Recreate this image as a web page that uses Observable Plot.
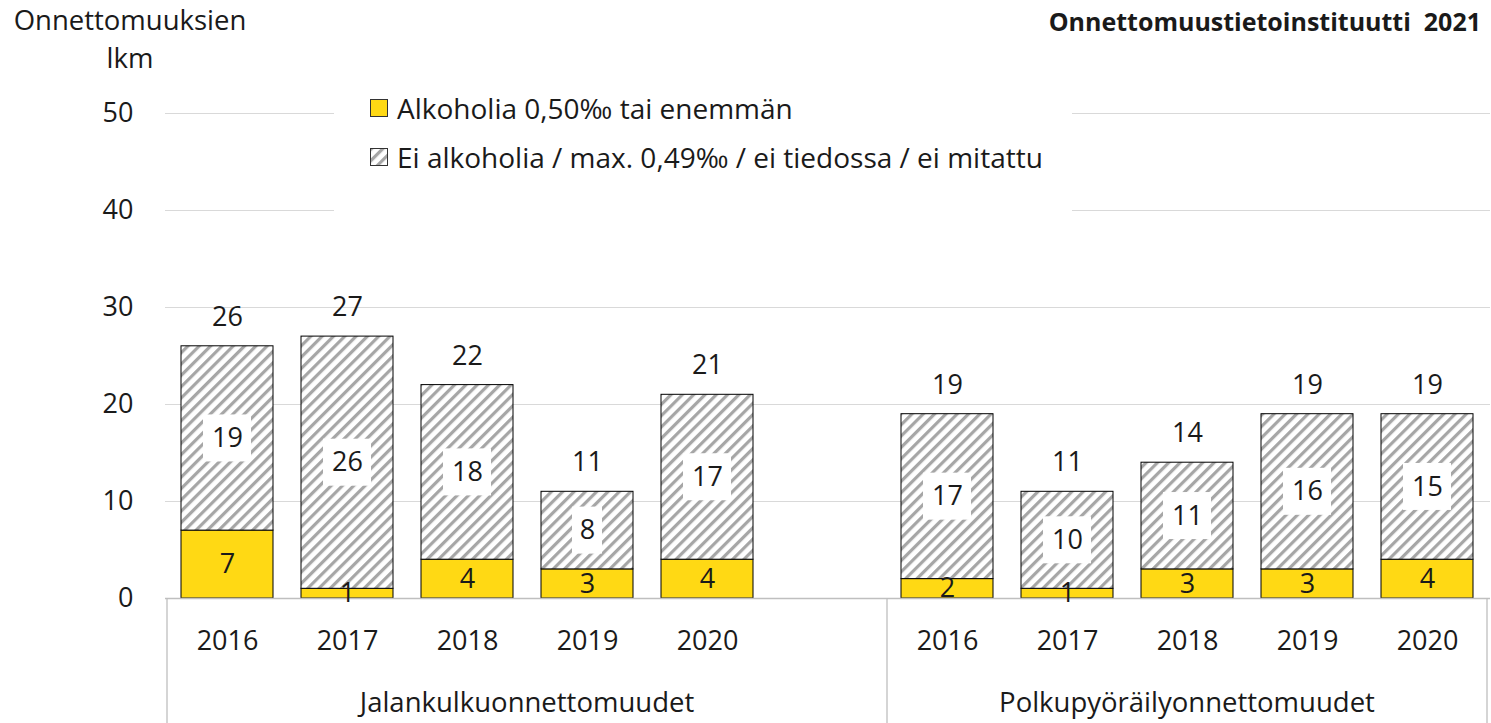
<!DOCTYPE html>
<html><head><meta charset="utf-8">
<script src="https://cdn.jsdelivr.net/npm/d3@7"></script>
<script src="https://cdn.jsdelivr.net/npm/@observablehq/plot@0.6"></script>
<style>
body{margin:0;background:#fff;font-family:"Open Sans",sans-serif;color:#1a1a1a;}
#wrap{position:relative;width:1491px;height:723px;overflow:hidden;}
#chart{position:absolute;left:0;top:0;}
#ytitle{position:absolute;left:0;top:1px;width:260px;text-align:center;font-size:27.5px;line-height:38px;}
#src{position:absolute;right:10px;top:4px;font-size:25px;font-weight:bold;white-space:pre;}
#legend{position:absolute;left:334px;top:84px;width:738px;height:134px;background:#fff;font-size:28px;}
.lrow{position:absolute;left:36px;display:flex;align-items:center;white-space:pre;}
.lrow svg{margin-right:9px;}
</style></head><body>
<div id="wrap">
<div id="ytitle">Onnettomuuksien<br>lkm</div>
<div id="src"></div>
<div id="chart"></div>
<div id="legend"></div>
</div>
<script>
const sourceText = "Onnettomuustietoinstituutti  2021";
const groups = ["Jalankulkuonnettomuudet", "Polkupyöräilyonnettomuudet"];
const years = ["2016", "2017", "2018", "2019", "2020"];
const seriesNames = ["Alkoholia 0,50‰ tai enemmän", "Ei alkoholia / max. 0,49‰ / ei tiedossa / ei mitattu"];
const pedAlcohol = [7, 1, 4, 3, 4];
const pedOther = [19, 26, 18, 8, 17];
const cycAlcohol = [2, 1, 3, 3, 4];
const cycOther = [17, 10, 11, 16, 15];
const yTicks = [0, 10, 20, 30, 40, 50];

const yellow = "#ffd914";
const hatchGray = "#a6a6a6";
const numSize = 27;

const pedKeys = years.map(y => "J" + y);
const cycKeys = years.map(y => "P" + y);
const xDomain = [...pedKeys, "gap", ...cycKeys];

const rows = [];
const totals = [];
function addGroup(keys, alc, oth) {
  keys.forEach((k, i) => {
    rows.push({key: k, series: seriesNames[0], value: alc[i], mid: alc[i] / 2, label: String(alc[i])});
    rows.push({key: k, series: seriesNames[1], value: oth[i], mid: alc[i] + oth[i] / 2, label: String(oth[i])});
    totals.push({key: k, total: alc[i] + oth[i]});
  });
}
addGroup(pedKeys, pedAlcohol, pedOther);
addGroup(cycKeys, cycAlcohol, cycOther);

document.getElementById("src").textContent = sourceText;

const plot = Plot.plot({
  width: 1491,
  height: 723,
  marginTop: 113,
  marginBottom: 125,
  marginLeft: 165,
  marginRight: 1,
  style: {fontFamily: "'Open Sans', sans-serif", fontSize: numSize + "px", color: "#1a1a1a", background: "transparent"},
  x: {domain: xDomain, paddingInner: 0.23, paddingOuter: 0.115, axis: null},
  y: {domain: [0, 50], axis: null},
  color: {domain: seriesNames, range: [yellow, "url(#hatch)"]},
  marks: [
    Plot.ruleY(yTicks.filter(d => d > 0), {stroke: "#d9d9d9", strokeWidth: 1}),
    Plot.axisY({ticks: yTicks, tickSize: 0, tickPadding: 32, label: null, fontSize: numSize}),
    Plot.axisX({ticks: [...pedKeys, ...cycKeys], tickSize: 0, tickPadding: 32, label: null, fontSize: numSize, tickFormat: k => k.slice(1)}),
    Plot.barY(rows, {x: "key", y: "value", fill: "series", stroke: "#000", strokeWidth: 1, order: seriesNames}),
    Plot.ruleY([0], {stroke: "#bfbfbf", strokeWidth: 1.3}),
    Plot.text(rows.filter(d => d.series === seriesNames[0]), {x: "key", y: "mid", text: "label", fontSize: numSize, fill: "#1a1a1a"}),
    Plot.text(rows.filter(d => d.series === seriesNames[1]), {x: "key", y: "mid", text: "label", fontSize: numSize, fill: "#1a1a1a"}),
    Plot.text(totals, {x: "key", y: "total", text: d => String(d.total), dy: -29, fontSize: numSize, fill: "#1a1a1a"})
  ]
});

const svg = d3.select(plot);
const defs = svg.insert("defs", ":first-child");
const pat = defs.append("pattern").attr("id", "hatch").attr("patternUnits", "userSpaceOnUse")
  .attr("width", 8).attr("height", 8).attr("patternTransform", "rotate(45)");
pat.append("rect").attr("width", 8).attr("height", 8).attr("fill", "#fff");
pat.append("rect").attr("x", 0).attr("y", 0).attr("width", 3.2).attr("height", 8).attr("fill", hatchGray);

const xs = plot.scale("x");
const ys = plot.scale("y");
const half = (xs.step - xs.bandwidth) / 2;

// white label boxes behind hatched-segment labels
const textGroups = plot.querySelectorAll(':scope > g[aria-label="text"]');
const segLabelG = textGroups[1];
const boxNode = document.createElementNS("http://www.w3.org/2000/svg", "g");
plot.insertBefore(boxNode, segLabelG);
const boxG = d3.select(boxNode);
rows.filter(d => d.series === seriesNames[1]).forEach(d => {
  const cx = xs.apply(d.key) + xs.bandwidth / 2;
  const cy = ys.apply(d.mid);
  const w = 12 + 18 * d.label.length, h = 47;
  boxG.append("rect").attr("x", cx - w / 2).attr("y", cy - h / 2).attr("width", w).attr("height", h).attr("fill", "#fff");
});

// separators and group labels
const left = xs.apply(pedKeys[0]) - half;
const sep = xs.apply(cycKeys[0]) - half;
const right = xs.apply(cycKeys[4]) + xs.bandwidth + half;
const y0 = ys.apply(0);
const sepG = svg.append("g").attr("stroke", "#bfbfbf").attr("stroke-width", 1.3);
[left, sep, right].forEach(x => sepG.append("line").attr("x1", x).attr("x2", x).attr("y1", y0).attr("y2", 723));
const gl = svg.append("g").attr("font-size", 27.5).attr("text-anchor", "middle").attr("fill", "#1a1a1a");
gl.append("text").attr("x", (left + sep) / 2).attr("y", 712).text(groups[0]);
gl.append("text").attr("x", (sep + right) / 2).attr("y", 712).text(groups[1]);

document.getElementById("chart").appendChild(plot);

const leg = document.getElementById("legend");
seriesNames.forEach((name, i) => {
  const row = document.createElement("div");
  row.className = "lrow";
  row.style.top = (i === 0 ? 5 : 54) + "px";
  const sw = i === 0
    ? `<svg width="18" height="18"><rect x="0.5" y="0.5" width="17" height="17" fill="${yellow}" stroke="#333"/></svg>`
    : `<svg width="18" height="18"><defs><pattern id="hatchL" patternUnits="userSpaceOnUse" width="8" height="8" patternTransform="rotate(45)"><rect width="8" height="8" fill="#fff"/><rect width="3.2" height="8" fill="${hatchGray}"/></pattern></defs><rect x="0.5" y="0.5" width="17" height="17" fill="url(#hatchL)" stroke="#333"/></svg>`;
  row.innerHTML = sw + `<span>${name}</span>`;
  leg.appendChild(row);
});
</script>
</body></html>
